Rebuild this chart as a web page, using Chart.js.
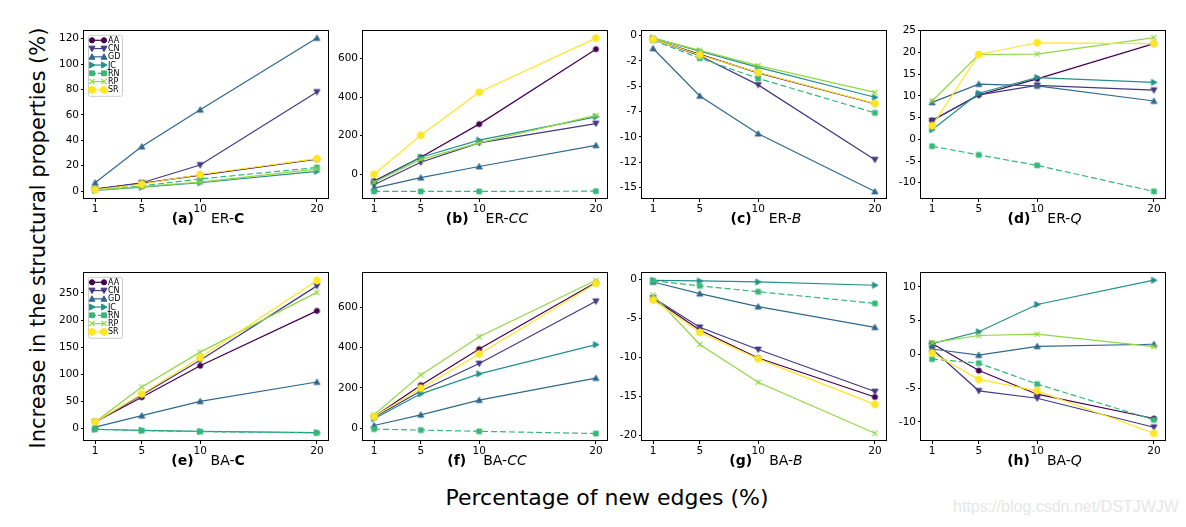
<!DOCTYPE html>
<html>
<head>
<meta charset="utf-8">
<script src="https://cdn.jsdelivr.net/npm/chart.js@4.4.1/dist/chart.umd.min.js"></script>
<style>
  body { margin: 0; background: #fff; font-family: 'DejaVu Sans', sans-serif; }
  #page { position: relative; width: 1186px; height: 527px; overflow: hidden; }
  .panel { position: absolute; }
  .ptitle { position: absolute; font-size: 14px; color: #000; white-space: nowrap; transform: translate(-50%, -50%); }
  .ptitle .gap { margin-left: 17px; }
  #ylab { position: absolute; left: 38px; top: 238px; font-size: 21px; white-space: nowrap; transform: translate(-50%, -50%) rotate(-90deg); }
  #xlab { position: absolute; left: 607px; top: 497px; font-size: 22px; white-space: nowrap; transform: translate(-50%, -50%); }
  #mark { position: absolute; left: 953px; top: 498px; font-size: 16px; font-family: 'Liberation Sans', sans-serif; color: #e6e6e6; white-space: nowrap; }
</style>
</head>
<body>
<div id="page">
  <div id="ylab">Increase in the structural properties (%)</div>
  <div id="xlab">Percentage of new edges (%)</div>
  <div id="mark">https://blog.csdn.net/DSTJWJW</div>
</div>
<script>
const xVals = [1, 5, 10, 20];
const methods = ['AA', 'CN', 'GD', 'JC', 'RN', 'RP', 'SR'];

// rows follow the order of methods
const erC = [
  [1.5, 6, 12.5, 25],
  [1.5, 6.5, 20.5, 78],
  [6.5, 35, 64, 120.5],
  [0.5, 3, 6.5, 15.5],
  [1, 4, 9.5, 18.5],
  [0.8, 3.5, 7, 17.2],
  [1, 5.5, 13, 25.5]
];
const erCC = [
  [-35, 88, 260, 649],
  [-55, 62, 163, 263],
  [-72, -18, 40, 150],
  [-40, 88, 177, 298],
  [-89, -89, -89, -88],
  [-42, 76, 163, 305],
  [0, 202, 425, 706]
];
const erB = [
  [-0.38, -1.86, -3.69, -6.73],
  [-0.38, -2.0, -4.87, -12.24],
  [-1.28, -5.96, -9.68, -15.38],
  [-0.26, -1.54, -3.14, -6.09],
  [-0.48, -2.24, -4.23, -7.63],
  [-0.26, -1.47, -2.98, -5.61],
  [-0.38, -1.92, -3.65, -6.7]
];
const erQ = [
  [4.3, 10.2, 13.9, 22.0],
  [4.3, 10.2, 12.4, 11.3],
  [8.5, 12.7, 12.3, 8.8],
  [2.2, 10.6, 14.2, 13.1],
  [-1.6, -3.6, -6.0, -12.0],
  [8.8, 19.5, 19.6, 23.4],
  [3.1, 19.5, 22.2, 22.0]
];
const baC = [
  [12.5, 58, 116, 217],
  [12.5, 62, 126, 263],
  [3, 24, 50.5, 86],
  [-1, -3, -5, -7],
  [-1, -3.5, -5.3, -7.7],
  [12.5, 77, 141, 251],
  [12.5, 64, 131, 273]
];
const baCC = [
  [56, 213, 392, 722],
  [53, 184, 320, 629],
  [13, 66, 139, 248],
  [46, 170, 269, 414],
  [-5, -10, -16, -27],
  [66, 264, 453, 733],
  [56, 198, 368, 717]
];
const baB = [
  [-2.45, -6.5, -10.1, -15.1],
  [-2.37, -6.15, -9.0, -14.4],
  [-0.33, -1.83, -3.5, -6.15],
  [-0.12, -0.2, -0.33, -0.75],
  [-0.17, -0.83, -1.58, -3.08],
  [-2.0, -8.36, -13.2, -19.75],
  [-2.66, -6.8, -10.2, -16.05]
];
const baQ = [
  [1.6, -2.4, -5.9, -9.5],
  [0.8, -5.4, -6.5, -10.8],
  [0.8, -0.1, 1.2, 1.5],
  [1.6, 3.35, 7.4, 11.0],
  [-0.7, -1.3, -4.4, -9.7],
  [1.75, 2.8, 3.0, 1.15],
  [0.2, -3.7, -5.4, -11.7]
];

const xTicks = [1, 5, 10, 20];
const ticksA = [0, 20, 40, 60, 80, 100, 120];
const ticksB = [0, 200, 400, 600];
const ticksC = [0, -2.5, -5, -7.5, -10, -12.5, -15];
const ticksD = [-10, -5, 0, 5, 10, 15, 20, 25];
const ticksE = [0, 50, 100, 150, 200, 250];
const ticksF = [0, 200, 400, 600];
const ticksG = [0, -5, -10, -15, -20];
const ticksH = [-10, -5, 0, 5, 10];

const colors = ['#440154', '#443983', '#31688e', '#21918c', '#35b779', '#90d743', '#fde725'];
const markers = ['circle', 'triDown', 'triUp', 'triRight', 'square', 'cross', 'hexagon'];

const panels = [
  { tag: '(a)', net: 'ER-', prop: 'C', fmt: 'b', data: erC, ticks: ticksA, min: -6.3, max: 126.6, col: 0, row: 0, legend: true },
  { tag: '(b)', net: 'ER-', prop: 'CC', fmt: 'i', data: erCC, ticks: ticksB, min: -128.5, max: 746.7, col: 1, row: 0 },
  { tag: '(c)', net: 'ER-', prop: 'B', fmt: 'i', data: erB, ticks: ticksC, min: -16.12, max: 0.51, col: 2, row: 0 },
  { tag: '(d)', net: 'ER-', prop: 'Q', fmt: 'i', data: erQ, ticks: ticksD, min: -13.74, max: 25.07, col: 3, row: 0 },
  { tag: '(e)', net: 'BA-', prop: 'C', fmt: 'b', data: baC, ticks: ticksE, min: -22.6, max: 288, col: 0, row: 1, legend: true },
  { tag: '(f)', net: 'BA-', prop: 'CC', fmt: 'i', data: baCC, ticks: ticksF, min: -64, max: 772.8, col: 1, row: 1 },
  { tag: '(g)', net: 'BA-', prop: 'B', fmt: 'i', data: baB, ticks: ticksG, min: -20.75, max: 0.91, col: 2, row: 1 },
  { tag: '(h)', net: 'BA-', prop: 'Q', fmt: 'i', data: baQ, ticks: ticksH, min: -12.84, max: 12.17, col: 3, row: 1 }
];

const colLeft = [84, 363, 642, 920.5];
const rowTop = [24.5, 267];
const plotW = 244, plotH = 174;
const axW = 45, axH = 20, padTop = 3, padRight = 5;

function drawMarker(ctx, kind, x, y, color){
    ctx.save();
    ctx.fillStyle = color;
    ctx.strokeStyle = color;
    ctx.lineWidth = 1;
    ctx.beginPath();
    if(kind === 'circle'){
        ctx.arc(x, y, 2.6, 0, Math.PI * 2);
    } else if(kind === 'triDown'){
        ctx.moveTo(x, y + 3); ctx.lineTo(x - 3, y - 2.4); ctx.lineTo(x + 3, y - 2.4);
    } else if(kind === 'triUp'){
        ctx.moveTo(x, y - 3); ctx.lineTo(x - 3, y + 2.4); ctx.lineTo(x + 3, y + 2.4);
    } else if(kind === 'triRight'){
        ctx.moveTo(x + 3, y); ctx.lineTo(x - 2.4, y - 3); ctx.lineTo(x - 2.4, y + 3);
    } else if(kind === 'square'){
        ctx.rect(x - 2.4, y - 2.4, 4.8, 4.8);
    } else if(kind === 'hexagon'){
        for(let k = 0; k < 6; k++){
            let a = -Math.PI / 2 + k * Math.PI / 3;
            let px = x + 3.8 * Math.cos(a), py = y + 3.8 * Math.sin(a);
            if(k === 0) ctx.moveTo(px, py); else ctx.lineTo(px, py);
        }
    }
    if(kind === 'cross'){
        ctx.lineWidth = 1.2;
        ctx.moveTo(x - 2.6, y - 2.6); ctx.lineTo(x + 2.6, y + 2.6);
        ctx.moveTo(x - 2.6, y + 2.6); ctx.lineTo(x + 2.6, y - 2.6);
        ctx.stroke();
    } else {
        ctx.closePath();
        ctx.fill();
        ctx.stroke();
    }
    ctx.restore();
}

function markerCanvas(kind, color){
    let c = document.createElement('canvas');
    c.width = 11;
    c.height = 11;
    drawMarker(c.getContext('2d'), kind, 5.5, 5.5, color);
    return c;
}

const framePlugin = {
    id: 'frame',
    afterDraw(chart){
        let a = chart.chartArea;
        let ctx = chart.ctx;
        ctx.save();
        ctx.strokeStyle = '#000';
        ctx.lineWidth = 1;
        ctx.strokeRect(Math.round(a.left) - 0.5, Math.round(a.top) + 0.5, Math.round(a.right - a.left) + 1, Math.round(a.bottom - a.top) - 1);
        ctx.restore();
    }
};

const miniLegend = {
    id: 'miniLegend',
    afterDraw(chart, args, opts){
        if(!opts.show) return;
        let ctx = chart.ctx;
        let bx = chart.chartArea.left + 4, by = chart.chartArea.top + 4.5;
        ctx.save();
        ctx.fillStyle = 'rgba(255,255,255,0.8)';
        ctx.strokeStyle = '#cccccc';
        ctx.lineWidth = 1;
        ctx.beginPath();
        ctx.roundRect(bx + 0.5, by + 0.5, 34, 61, 2);
        ctx.fill();
        ctx.stroke();
        methods.forEach((m, i) => {
            let y = by + 5.5 + i * 8.25;
            ctx.strokeStyle = colors[i];
            ctx.lineWidth = 1.2;
            ctx.setLineDash(m === 'RN' ? [4, 2] : []);
            ctx.beginPath();
            ctx.moveTo(bx + 4, y);
            ctx.lineTo(bx + 16, y);
            ctx.stroke();
            ctx.setLineDash([]);
            drawMarker(ctx, markers[i], bx + 4, y, colors[i]);
            drawMarker(ctx, markers[i], bx + 16, y, colors[i]);
            ctx.fillStyle = '#000';
            ctx.font = '8px "DejaVu Sans"';
            ctx.textBaseline = 'middle';
            ctx.fillText(m, bx + 20, y + 0.5);
        });
        ctx.restore();
    }
};

function makePanel(p){
    let page = document.getElementById('page');
    let left = colLeft[p.col], top = rowTop[p.row];
    let box = document.createElement('div');
    box.className = 'panel';
    box.style.left = (left - axW) + 'px';
    box.style.top = (top - padTop) + 'px';
    let cv = document.createElement('canvas');
    cv.width = plotW + axW + padRight;
    cv.height = plotH + padTop + axH;
    box.appendChild(cv);
    page.appendChild(box);

    let t = document.createElement('div');
    t.className = 'ptitle';
    t.style.left = (left + plotW / 2 + 2) + 'px';
    t.style.top = (top + plotH + 19) + 'px';
    let prop = p.fmt === 'b' ? '<b>' + p.prop + '</b>' : '<i>' + p.prop + '</i>';
    t.innerHTML = '<b>' + p.tag + '</b><span class="gap">' + p.net + '</span>' + prop;
    page.appendChild(t);

    let datasets = methods.map((m, i) => ({
        label: m,
        data: xVals.map((x, j) => ({ x: x, y: p.data[i][j] })),
        borderColor: colors[i],
        backgroundColor: colors[i],
        borderWidth: 1.2,
        borderDash: m === 'RN' ? [6, 3] : [],
        pointStyle: markerCanvas(markers[i], colors[i]),
        pointRadius: 3,
        pointHoverRadius: 3,
        tension: 0,
        fill: false,
        order: methods.length - i
    }));

    let tickFont = { family: 'DejaVu Sans', size: 10.5 };
    new Chart(cv.getContext('2d'), {
        type: 'line',
        data: { datasets: datasets },
        options: {
            responsive: false,
            animation: false,
            layout: { padding: { top: padTop, right: padRight, left: 0, bottom: 0 } },
            plugins: {
                legend: { display: false },
                tooltip: { enabled: false },
                miniLegend: { show: !!p.legend }
            },
            scales: {
                x: {
                    type: 'linear',
                    min: 0.05,
                    max: 20.95,
                    afterBuildTicks: s => { s.ticks = xTicks.map(v => ({ value: v })); },
                    afterFit: s => { s.height = axH; },
                    grid: { display: true, drawOnChartArea: false, drawTicks: true, tickLength: 3, color: '#000' },
                    border: { display: false },
                    ticks: { font: tickFont, color: '#000', padding: 1, maxRotation: 0, autoSkip: false, callback: v => String(v) }
                },
                y: {
                    type: 'linear',
                    min: p.min,
                    max: p.max,
                    afterBuildTicks: s => { s.ticks = p.ticks.map(v => ({ value: v })); },
                    afterFit: s => { s.width = axW; },
                    grid: { display: true, drawOnChartArea: false, drawTicks: true, tickLength: 3, color: '#000' },
                    border: { display: false },
                    ticks: { font: tickFont, color: '#000', padding: 2, autoSkip: false, callback: v => String(Math.trunc(v)) }
                }
            }
        },
        plugins: [framePlugin, miniLegend]
    });
}

panels.forEach(makePanel);
</script>
</body>
</html>
